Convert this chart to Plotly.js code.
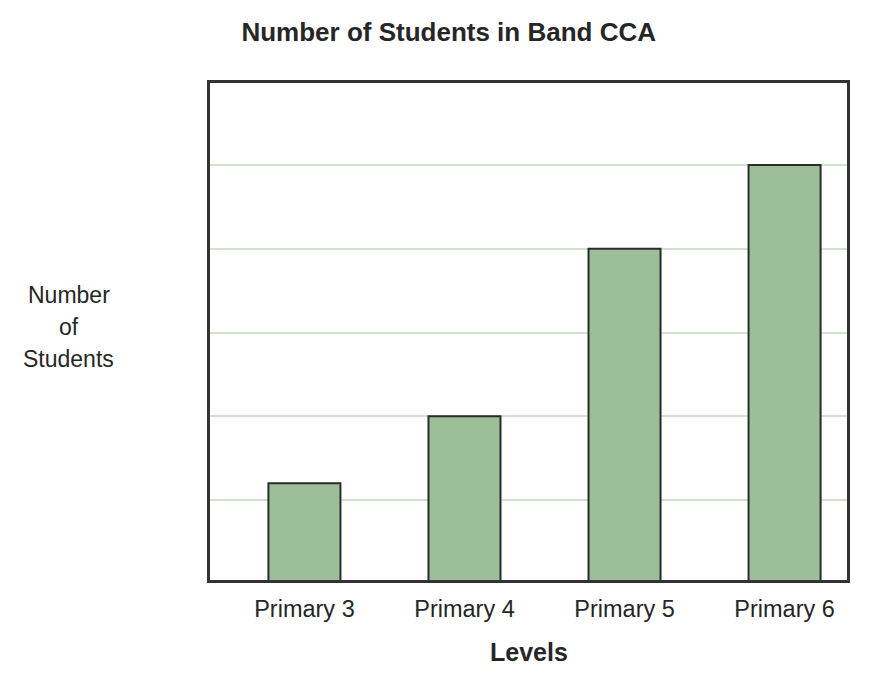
<!DOCTYPE html>
<html>
<head>
<meta charset="utf-8">
<script src="https://cdn.plot.ly/plotly-3.0.1.min.js"></script>
<style>
  html, body { margin: 0; padding: 0; background: #ffffff; }
  #plot { width: 873px; height: 683px; }
</style>
</head>
<body>
<div id="plot"></div>
<script>
const levels = ["Primary 3", "Primary 4", "Primary 5", "Primary 6"];
const students = [12, 20, 40, 50];
const yLabelLines = ["Number", "of", "Students"];

const FONT = "Liberation Sans, Arial, sans-serif";
const TEXT_COLOR = "#262626";

const trace = {
  type: "bar",
  x: levels,
  y: students,
  marker: {
    color: "#9cbf9a",
    line: { color: "#2b2b2b", width: 2 },
  },
  hoverinfo: "x+y",
};

// y label is drawn one line per annotation so the line spacing can match
const yLabelAnnotations = yLabelLines.map((line, i) => ({
  text: line,
  xref: "paper",
  yref: "paper",
  x: -0.2214,
  y: 0.509,
  yshift: (1 - i) * 32,
  xanchor: "center",
  yanchor: "middle",
  showarrow: false,
  font: { family: FONT, size: 23, color: TEXT_COLOR },
}));

const layout = {
  width: 873,
  height: 683,
  paper_bgcolor: "#ffffff",
  plot_bgcolor: "#ffffff",
  margin: { l: 210, r: 26, t: 83, b: 103 },
  font: { family: FONT, color: TEXT_COLOR, size: 23 },
  showlegend: false,
  bargap: 0.55,
  title: {
    text: "<b>Number of Students in Band CCA</b>",
    font: { family: FONT, size: 26, color: TEXT_COLOR },
    xref: "container",
    yref: "container",
    x: 0.514,
    y: 0.953,
    xanchor: "center",
    yanchor: "middle",
  },
  xaxis: {
    range: [-0.59, 3.39],
    showline: true,
    mirror: true,
    linecolor: "#333333",
    linewidth: 3,
    showgrid: false,
    ticks: "",
    ticklabelstandoff: 6,
    tickfont: { family: FONT, size: 23.5, color: TEXT_COLOR },
  },
  yaxis: {
    range: [0.45, 59.8],
    dtick: 10,
    showline: true,
    mirror: true,
    linecolor: "#333333",
    linewidth: 3,
    showgrid: true,
    gridcolor: "#d2e2ce",
    gridwidth: 2,
    zeroline: false,
    showticklabels: false,
    ticks: "",
  },
  annotations: [
    {
      text: "<b>Levels</b>",
      xref: "paper",
      yref: "paper",
      x: 0.5,
      y: -0.1449,
      xanchor: "center",
      yanchor: "middle",
      showarrow: false,
      font: { family: FONT, size: 25, color: TEXT_COLOR },
    },
    ...yLabelAnnotations,
  ],
};

Plotly.newPlot("plot", [trace], layout, { displayModeBar: false, staticPlot: true });
</script>
</body>
</html>
